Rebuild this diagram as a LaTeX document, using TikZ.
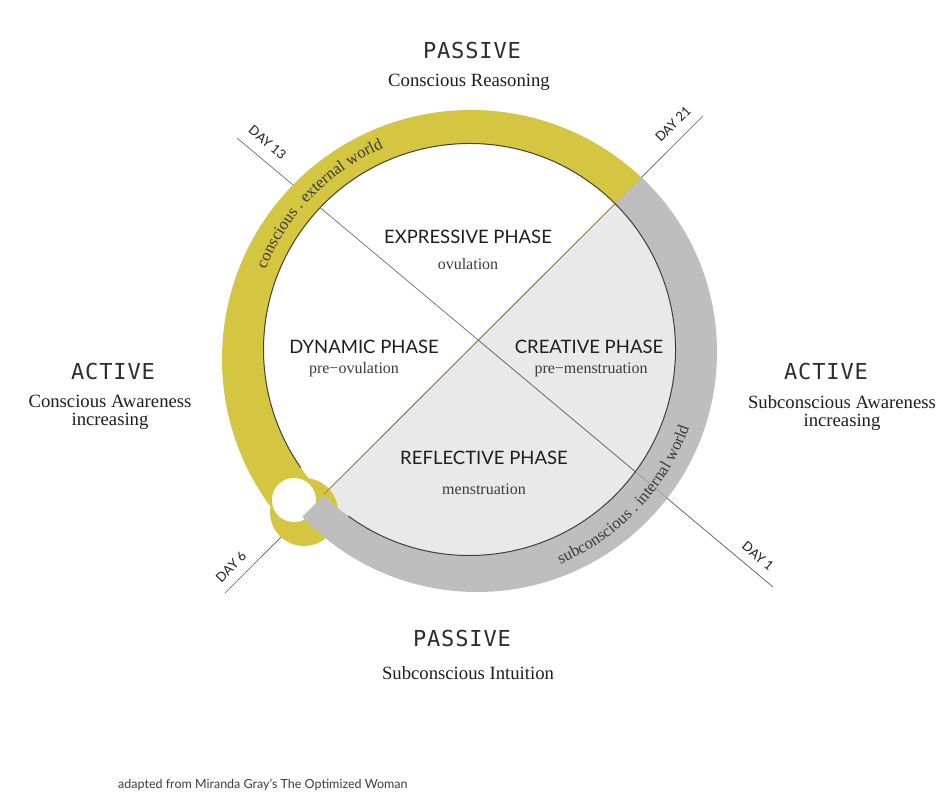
\documentclass[tikz,border=0pt]{standalone}
\usepackage{fontspec}
\setmainfont{Liberation Serif}
\newfontfamily\latof{Lato}
\newfontfamily\monof[LetterSpace=4]{DejaVu Sans Mono}
\usetikzlibrary{decorations.text,calc}
\definecolor{ringyellow}{RGB}{213,198,66}
\definecolor{ringgray}{RGB}{190,190,190}
\definecolor{innergray}{RGB}{233,233,233}
\definecolor{linegray}{RGB}{90,90,90}
\definecolor{oliveline}{RGB}{150,132,60}
\definecolor{txt}{RGB}{30,30,30}
\definecolor{monotxt}{RGB}{45,45,45}
\definecolor{subtxt}{RGB}{60,60,60}
\begin{document}
\begin{tikzpicture}[x=1pt,y=1pt,
  modelbl/.style={font=\monof\fontsize{22}{24}\selectfont, text=monotxt, inner sep=0pt},
  desclbl/.style={font=\fontsize{18.7}{18}\selectfont, text=txt, align=center, inner sep=0pt},
  phaselbl/.style={font=\latof\fontsize{18.5}{20}\selectfont, text=txt, inner sep=0pt},
  sublbl/.style={font=\fontsize{16}{18}\selectfont, text=subtxt, inner sep=0pt},
  daylbl/.style={font=\latof\fontsize{13}{14}\selectfont, text=txt, inner sep=0pt},
  divider/.style={draw=linegray, line width=0.6pt},
]
\fill[white] (0,0) rectangle (944,800);
\useasboundingbox (0,0) rectangle (944,800);
\coordinate (Cin) at (469.5,450.5);
\coordinate (Cy) at (471,441);
\coordinate (Cg) at (477,448);
\coordinate (L) at (478,459);
\coordinate (d13) at (237,662);
\coordinate (d1) at (773,213);
\coordinate (d21) at (703,684);
\coordinate (d6) at (225,207);
\coordinate (J) at (304,288);
\coordinate (Jw) at (294,300);
% light gray half of the inner disc
\begin{scope}
  \clip ($(L)+(-500,-500)$) -- ($(L)+(500,500)$) -- ($(L)+(1000,0)$) -- ($(L)+(0,-1000)$) -- cycle;
  \fill[innergray] (Cin) circle[radius=206];
\end{scope}
% day lines
\draw[divider] (d13) -- (d1);
\draw[divider] (d21) -- (d6);
% yellow ring
\begin{scope}
  \clip ($(L)+(-500,-500)$) -- ($(L)+(500,500)$) -- ($(L)+(0,1000)$) -- ($(L)+(-1000,0)$) -- cycle;
  \fill[ringyellow, even odd rule] (Cy) circle[radius=249] (Cin) circle[radius=206];
\end{scope}
% junction at day 6
\fill[ringyellow] (J) circle[radius=34];
\fill[white] (Jw) circle[radius=22];
% gray ring
\begin{scope}
  \clip ($(L)+(-500,-500)$) -- ($(L)+(500,500)$) -- ($(L)+(1000,0)$) -- ($(L)+(0,-1000)$) -- cycle;
  \fill[ringgray, even odd rule] (Cg) circle[radius=240] (Cin) circle[radius=206];
  \draw[divider, opacity=0.35] (d13) -- (d1);
\end{scope}
% inner outline
\draw[draw=linegray!70!black, line width=1pt] ($(Cin)+(234:206)$) arc[start angle=234, end angle=575, radius=206];
% olive diagonal inside
\begin{scope}
  \clip (Cin) circle[radius=205.5];
  \draw[draw=oliveline, line width=0.7pt] (d21) -- (d6);
\end{scope}
% ring texts
\path[decorate, decoration={text along path, text align=center,
  text={|\fontsize{16.5}{17}\selectfont\color{subtxt}|conscious . external world}}]
  ($(Cin)+(178:219)$) arc[start angle=178, end angle=93.6, radius=219];
\path[decorate, decoration={text along path, text align=center,
  text={|\fontsize{16.5}{17}\selectfont\color{subtxt}|subconscious . internal world}}]
  ($(Cin)+(-90:233)$) arc[start angle=-90, end angle=3.4, radius=233];
% outer labels
\node[modelbl] (pt) at (472,749) {PASSIVE};
\node[desclbl] (ptd) at (469,718) {Conscious Reasoning};
\node[modelbl] (al) at (113,429) {ACTIVE};
\node[desclbl] (ald) at (110,388) {Conscious Awareness\\increasing};
\node[modelbl] (ar) at (826,429) {ACTIVE};
\node[desclbl] (ard) at (842,387) {Subconscious Awareness\\increasing};
\node[modelbl] (pb) at (462,162) {PASSIVE};
\node[desclbl] (pbd) at (468,127) {Subconscious Intuition};
% phases
\node[phaselbl] (pexp) at (468,563) {EXPRESSIVE PHASE};
\node[sublbl] (sexp) at (468,536) {ovulation};
\node[phaselbl] (pdyn) at (364,453) {DYNAMIC PHASE};
\node[sublbl] (sdyn) at (354,430) {pre−ovulation};
\node[phaselbl] (pcre) at (589,453) {CREATIVE PHASE};
\node[sublbl] (scre) at (591,430) {pre−menstruation};
\node[phaselbl] (pref) at (484,342) {REFLECTIVE PHASE};
\node[sublbl] (sref) at (484,311) {menstruation};
% day labels
\node[daylbl, rotate=-40] (l13) at (267.5,657.5) {DAY 13};
\node[daylbl, rotate=45] (l21) at (673,676) {DAY 21};
\node[daylbl, rotate=45] (l6) at (231,233) {DAY 6};
\node[daylbl, rotate=-40] (l1) at (758,244) {DAY 1};
% credit
\node[font=\latof\fontsize{12.5}{14}\selectfont, text=subtxt, anchor=west, inner sep=0pt] (credit) at (118,15) {adapted from Miranda Gray’s The Optimized Woman};
\end{tikzpicture}
\end{document}
